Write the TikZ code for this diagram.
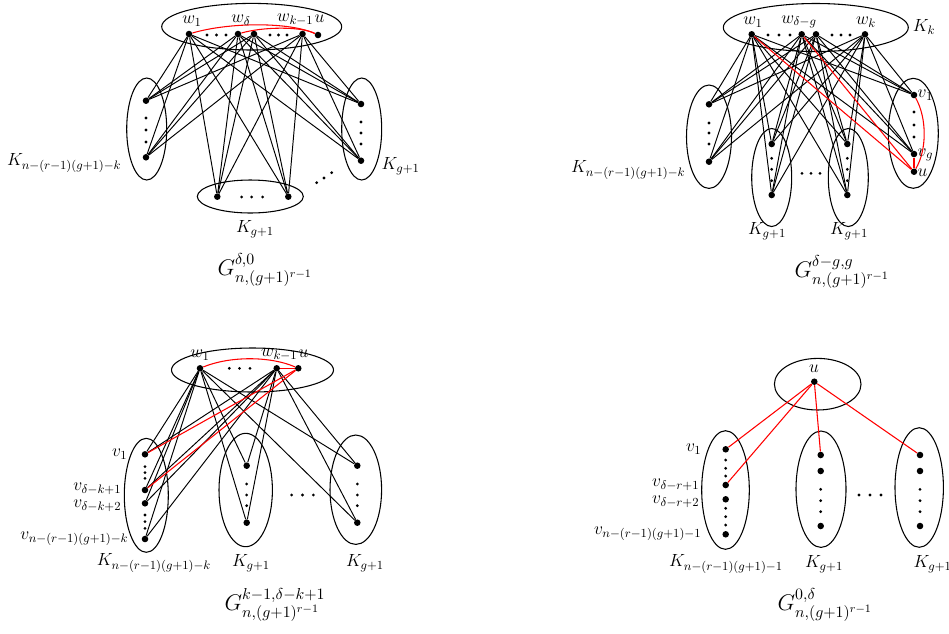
\RequirePackage{fix-cm}
\documentclass[tikz,border=0pt]{standalone}
\begin{document}
\begin{tikzpicture}[x=0.75pt,y=-0.75pt,
 vtx/.style={circle,fill=black,inner sep=0pt,minimum size=4.9pt},
 sdot/.style={circle,fill=black,inner sep=0pt,minimum size=2.3pt},
 bedge/.style={line width=0.72pt,black},
 redge/.style={line width=0.8pt,red},
 grp/.style={line width=0.8pt},
 lbl/.style={font=\fontsize{13.2}{15}\selectfont,inner sep=0.3pt},
 captxt/.style={font=\fontsize{17}{20}\selectfont,inner sep=1pt}]
\useasboundingbox (0,0) rectangle (949,633);

% ================= Panel 1 (top left) =================
\draw[grp] (251.7,26.7) ellipse [x radius=90, y radius=23.3];
\draw[grp] (146.7,129) ellipse [x radius=20, y radius=51];
\draw[grp] (361.7,129) ellipse [x radius=20, y radius=51];
\draw[grp] (250.3,196.5) ellipse [x radius=53, y radius=16.5];
\node[vtx] (a-w1) at (189,34) {};
\node[vtx] (a-wd) at (238,34) {};
\node[vtx] (a-wd2) at (254,34) {};
\node[vtx] (a-wk) at (302.5,34) {};
\node[vtx] (a-u) at (318,35) {};
\node[vtx] (a-L1) at (146,100.7) {};
\node[vtx] (a-L2) at (146,157.3) {};
\node[vtx] (a-R1) at (361,104) {};
\node[vtx] (a-R2) at (361,160.7) {};
\node[vtx] (a-B1) at (217.3,196.7) {};
\node[vtx] (a-B2) at (288.3,196.7) {};
\foreach \x [count=\i] in {207,216.5,226} \node[sdot] (a-t1d\i) at (\x,35) {};
\foreach \x [count=\i] in {270,278.5,287} \node[sdot] (a-t2d\i) at (\x,35) {};
\foreach \y [count=\i] in {118,130,142} \node[sdot] (a-ld\i) at (146,\y) {};
\foreach \y [count=\i] in {122,133,144} \node[sdot] (a-rd\i) at (361,\y) {};
\foreach \x [count=\i] in {241.7,251.7,262.7} \node[sdot] (a-bd\i) at (\x,197) {};
\node[sdot] (a-dd1) at (316.7,182.7) {};
\node[sdot] (a-dd2) at (324,178) {};
\node[sdot] (a-dd3) at (331.7,172.7) {};
\foreach \a in {a-w1,a-wd,a-wd2,a-wk}
  \foreach \b in {a-L1,a-L2,a-R1,a-R2,a-B1,a-B2}
    \draw[bedge] (\a) -- (\b);
\draw[redge] (a-w1) .. controls (230,22) and (290,22) .. (a-u);
\draw[redge] (a-wd) .. controls (262,27) and (300,26) .. (a-u);
\node[lbl] (a-lw1) at (192,21) {$w_1$};
\node[lbl] (a-lwd) at (241,20) {$w_\delta$};
\node[lbl,anchor=east] (a-lwk) at (314,20) {$w_{k-1}$};
\node[lbl,anchor=west] (a-lu) at (314,19) {$u$};
\node[lbl,anchor=east] (a-lK1) at (122,163) {$K_{n-(r-1)(g+1)-k}$};
\node[lbl,anchor=west] (a-lK2) at (381,166) {$K_{g+1}$};
\node[lbl] (a-lK3) at (255,229) {$K_{g+1}$};
\node[captxt] (a-cap) at (265,270) {$G^{\delta,0}_{n,(g+1)^{r-1}}$};

% ================= Panel 2 (top right) =================
\draw[grp] (815.8,27.5) ellipse [x radius=92.5, y radius=24];
\draw[grp] (709,136.7) ellipse [x radius=22.5, y radius=51.7];
\draw[grp] (771.7,177.5) ellipse [x radius=20, y radius=49];
\draw[grp] (848.3,177.5) ellipse [x radius=20, y radius=49];
\draw[grp] (913.3,133.3) ellipse [x radius=25, y radius=55];
\node[vtx] (b-w1) at (751.7,34.3) {};
\node[vtx] (b-wd) at (801.7,34.3) {};
\node[vtx] (b-wd2) at (816,34.3) {};
\node[vtx] (b-wk) at (865,34.3) {};
\node[vtx] (b-L1) at (709,104.3) {};
\node[vtx] (b-L2) at (709,161.7) {};
\node[vtx] (b-M1) at (771.7,144) {};
\node[vtx] (b-M2) at (771.7,195) {};
\node[vtx] (b-N1) at (847.3,144) {};
\node[vtx] (b-N2) at (847.3,195) {};
\node[vtx] (b-v1) at (914,95) {};
\node[vtx] (b-vg) at (914,154) {};
\node[vtx] (b-u) at (914,171.7) {};
\foreach \x [count=\i] in {768,779,790} \node[sdot] (b-t1d\i) at (\x,35) {};
\foreach \x [count=\i] in {832,841,850} \node[sdot] (b-t2d\i) at (\x,35) {};
\foreach \y [count=\i] in {123,133,144} \node[sdot] (b-ld\i) at (709,\y) {};
\foreach \y [count=\i] in {158.3,169.3,180.7} \node[sdot] (b-md\i) at (771.7,\y) {};
\foreach \y [count=\i] in {158.3,169.3,180.7} \node[sdot] (b-nd\i) at (847.3,\y) {};
\foreach \y [count=\i] in {112,125,137} \node[sdot] (b-rd\i) at (914,\y) {};
\foreach \x [count=\i] in {802,811,820} \node[sdot] (b-hd\i) at (\x,173.3) {};
\foreach \a in {b-w1,b-wd,b-wd2,b-wk}
  \foreach \b in {b-L1,b-L2,b-M1,b-M2,b-N1,b-N2,b-v1,b-vg}
    \draw[bedge] (\a) -- (\b);
\draw[redge] (b-w1) -- (b-u);
\draw[redge] (b-wd) -- (b-u);
\draw[redge] (b-vg) -- (b-u);
\draw[redge] (b-v1) .. controls (927,118) and (927,150) .. (b-u);
\node[lbl] (b-lw1) at (753,22) {$w_1$};
\node[lbl] (b-lwd) at (799,22) {$w_{\delta-g}$};
\node[lbl] (b-lwk) at (866,22) {$w_k$};
\node[lbl] (b-lKk) at (924,27) {$K_k$};
\node[lbl,anchor=east] (b-lK1) at (686,170) {$K_{n-(r-1)(g+1)-k}$};
\node[lbl,anchor=west] (b-lv1) at (917,95) {$v_1$};
\node[lbl,anchor=west] (b-lvg) at (917,155) {$v_g$};
\node[lbl,anchor=west] (b-lu) at (917,173) {$u$};
\node[lbl] (b-lK2) at (767,231) {$K_{g+1}$};
\node[lbl] (b-lK3) at (849,231) {$K_{g+1}$};
\node[captxt] (b-cap) at (842,272) {$G^{\delta-g,g}_{n,(g+1)^{r-1}}$};

% ================= Panel 3 (bottom left) =================
\draw[grp] (252.5,370) ellipse [x radius=81, y radius=22];
\draw[grp] (146.3,495.3) ellipse [x radius=22, y radius=57];
\draw[grp] (245.7,490) ellipse [x radius=26.7, y radius=56.7];
\draw[grp] (355.8,489.7) ellipse [x radius=25.8, y radius=54.7];
\node[vtx] (c-w1) at (200,368.3) {};
\node[vtx] (c-wk) at (276.7,368.3) {};
\node[vtx] (c-u) at (298.3,368.3) {};
\node[vtx] (c-v1) at (145,454.3) {};
\node[vtx] (c-va) at (145,490) {};
\node[vtx] (c-vb) at (145,503.3) {};
\node[vtx] (c-vl) at (145,539) {};
\node[vtx] (c-M1) at (246.7,465.7) {};
\node[vtx] (c-M2) at (246.7,522.7) {};
\node[vtx] (c-R1) at (357.3,465.7) {};
\node[vtx] (c-R2) at (357.3,522.7) {};
\foreach \x [count=\i] in {229.3,239.5,250} \node[sdot] (c-td\i) at (\x,368.3) {};
\foreach \y [count=\i] in {466.7,472.7,478.3} \node[sdot] (c-ld\i) at (145,\y) {};
\foreach \y [count=\i] in {515,521.7,528.3} \node[sdot] (c-le\i) at (145,\y) {};
\foreach \y [count=\i] in {484,495,505.7} \node[sdot] (c-md\i) at (246.7,\y) {};
\foreach \y [count=\i] in {484,495,505.7} \node[sdot] (c-rd\i) at (357.3,\y) {};
\foreach \x [count=\i] in {291.7,302.5,313.3} \node[sdot] (c-hd\i) at (\x,495) {};
\foreach \a in {c-w1,c-wk}
  \foreach \b in {c-v1,c-va,c-vb,c-vl,c-M1,c-M2,c-R1,c-R2}
    \draw[bedge] (\a) -- (\b);
\draw[redge] (c-w1) .. controls (230,356) and (270,356) .. (c-u);
\draw[redge] (c-wk) -- (c-u);
\draw[redge] (c-u) -- (c-v1);
\draw[redge] (c-u) -- (c-va);
\node[lbl] (c-lw1) at (200,355) {$w_1$};
\node[lbl,anchor=east] (c-lwk) at (298,355) {$w_{k-1}$};
\node[lbl,anchor=west] (c-lu) at (298,354) {$u$};
\node[lbl,anchor=east] (c-lv1) at (128,454) {$v_1$};
\node[lbl,anchor=east] (c-lva) at (122,488.5) {$v_{\delta-k+1}$};
\node[lbl,anchor=east] (c-lvb) at (122,505.5) {$v_{\delta-k+2}$};
\node[lbl,anchor=east] (c-lvl) at (129,539) {$v_{n-(r-1)(g+1)-k}$};
\node[lbl] (c-lK1) at (154,563) {$K_{n-(r-1)(g+1)-k}$};
\node[lbl] (c-lK2) at (251,563) {$K_{g+1}$};
\node[lbl] (c-lK3) at (365,563) {$K_{g+1}$};
\node[captxt] (c-cap) at (275,605) {$G^{k-1,\delta-k+1}_{n,(g+1)^{r-1}}$};

% ================= Panel 4 (bottom right) =================
\draw[grp] (817.7,384.2) ellipse [x radius=43.3, y radius=25.8];
\draw[grp] (725.5,490) ellipse [x radius=23.8, y radius=59.3];
\draw[grp] (821,489.2) ellipse [x radius=25, y radius=58.2];
\draw[grp] (919.2,487.5) ellipse [x radius=24.2, y radius=59.8];
\node[vtx] (d-u) at (814.3,381.7) {};
\node[vtx] (d-v1) at (725.7,449.3) {};
\node[vtx] (d-va) at (725.7,485) {};
\node[vtx] (d-vb) at (725.7,499.3) {};
\node[vtx] (d-vl) at (725.7,534.3) {};
\node[vtx] (d-M1) at (820.7,455) {};
\node[vtx] (d-M2) at (820.7,471) {};
\node[vtx] (d-M3) at (820.7,526) {};
\node[vtx] (d-R1) at (920,455) {};
\node[vtx] (d-R2) at (920,471) {};
\node[vtx] (d-R3) at (920,526) {};
\foreach \y [count=\i] in {460,468.3,476} \node[sdot] (d-ld\i) at (725.7,\y) {};
\foreach \y [count=\i] in {508.3,516.7,525} \node[sdot] (d-le\i) at (725.7,\y) {};
\foreach \y [count=\i] in {489.3,500.7,511.7} \node[sdot] (d-md\i) at (820.7,\y) {};
\foreach \y [count=\i] in {489.3,500.7,511.7} \node[sdot] (d-rd\i) at (920,\y) {};
\foreach \x [count=\i] in {859,870,881} \node[sdot] (d-hd\i) at (\x,495) {};
\foreach \b in {d-v1,d-va,d-M1,d-R1}
  \draw[redge] (d-u) -- (\b);
\node[lbl] (d-lu) at (814,369) {$u$};
\node[lbl,anchor=east] (d-lv1) at (702,449) {$v_1$};
\node[lbl,anchor=east] (d-lva) at (700,484.5) {$v_{\delta-r+1}$};
\node[lbl,anchor=east] (d-lvb) at (700,502) {$v_{\delta-r+2}$};
\node[lbl,anchor=east] (d-lvl) at (702,534) {$v_{n-(r-1)(g+1)-1}$};
\node[lbl] (d-lK1) at (726,564) {$K_{n-(r-1)(g+1)-1}$};
\node[lbl] (d-lK2) at (824,564) {$K_{g+1}$};
\node[lbl,anchor=west] (d-lK3) at (913,564) {$K_{g+1}$};
\node[captxt] (d-cap) at (825,605) {$G^{0,\delta}_{n,(g+1)^{r-1}}$};
\end{tikzpicture}
\end{document}
